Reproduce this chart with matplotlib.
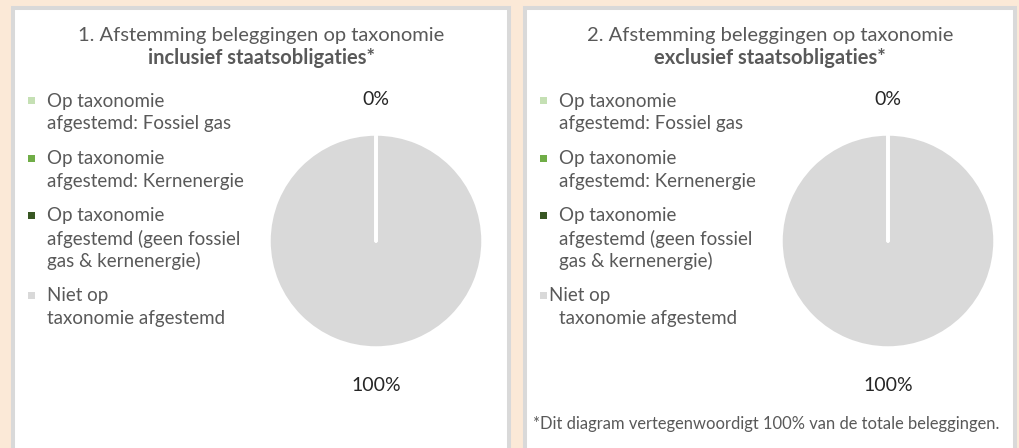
import matplotlib.pyplot as plt
from matplotlib.patches import Rectangle

W, H = 1019, 448

titles = ["1. Afstemming beleggingen op taxonomie", "2. Afstemming beleggingen op taxonomie"]
subtitles = ["inclusief staatsobligaties*", "exclusief staatsobligaties*"]
categories = [
    ["Op taxonomie", "afgestemd: Fossiel gas"],
    ["Op taxonomie", "afgestemd: Kernenergie"],
    ["Op taxonomie", "afgestemd (geen fossiel", "gas & kernenergie)"],
    ["Niet op", "taxonomie afgestemd"],
]
colors = ["#c5e0b4", "#70ad47", "#385723", "#d9d9d9"]
values_incl = [0, 0, 0, 100]
values_excl = [0, 0, 0, 100]
footnote = "*Dit diagram vertegenwoordigt 100% van de totale beleggingen."

plt.rcParams['font.family'] = ['Lato', 'DejaVu Sans']
TXT = "#595959"

fig = plt.figure(figsize=(W / 100, H / 100), dpi=100)
fig.patch.set_facecolor("#fbe9d7")


def fx(x):
    return x / W


def fy(y):
    return 1 - y / H


def draw_panel(x0, x1, title, subtitle, values, second):
    # panel box (behind the pie axes)
    fig.patches.append(Rectangle((fx(x0), fy(H + 10)), fx(x1 - x0), (H + 2) / H,
                                 transform=fig.transFigure, facecolor="white",
                                 edgecolor="#d9d9d9", linewidth=2.9, zorder=-2))
    cx = (x0 + x1) / 2
    fig.text(fx(cx), fy(35), title, ha="center", va="center", fontsize=14.5, color=TXT)
    fig.text(fx(cx), fy(58), subtitle, ha="center", va="center", fontsize=14.5,
             color=TXT, fontweight="bold")

    # legend
    y = 101
    for i, lines in enumerate(categories):
        fig.patches.append(Rectangle((fx(x0 + 15), fy(y + 3.5)), 7 / W, 7 / H,
                                     transform=fig.transFigure, facecolor=colors[i],
                                     edgecolor="none"))
        for j, line in enumerate(lines):
            tx = x0 + 34
            if second and i == 3 and j == 0:
                tx = x0 + 24
            fig.text(fx(tx), fy(y + j * 22.7), line, ha="left", va="center",
                     fontsize=13.5, color=TXT)
        y += len(lines) * 22.7 + 12

    # pie
    pcx, pcy, r = x0 + 363, 241, 107
    ax = fig.add_axes([fx(pcx - r), fy(pcy + r), 2 * r / W, 2 * r / H])
    lbls = [f"{v}%" if (v > 0 or i == 2) else "" for i, v in enumerate(values)]
    wedges, _ = ax.pie(values, colors=colors, startangle=90, counterclock=False,
                       labels=lbls, labeldistance=1.34, radius=1.0,
                       wedgeprops=dict(edgecolor="white", linewidth=2.5),
                       textprops=dict(ha="center", va="center_baseline",
                                      fontsize=14, color="#262626"))
    # zero-size slices show as a white separator line on top of the full slice
    for w, v in zip(wedges, values):
        if v == 0:
            w.set_zorder(3)
            w.set_capstyle("round")
    ax.set_xlim(-1, 1)
    ax.set_ylim(-1, 1)
    ax.set_aspect("equal")
    ax.axis("off")


draw_panel(13, 509, titles[0], subtitles[0], values_incl, False)
draw_panel(525, 1015, titles[1], subtitles[1], values_excl, True)

fig.text(fx(533), fy(424), footnote, ha="left", va="center", fontsize=11.9, color=TXT)

fig.savefig("out.png", dpi=100, facecolor=fig.get_facecolor())
